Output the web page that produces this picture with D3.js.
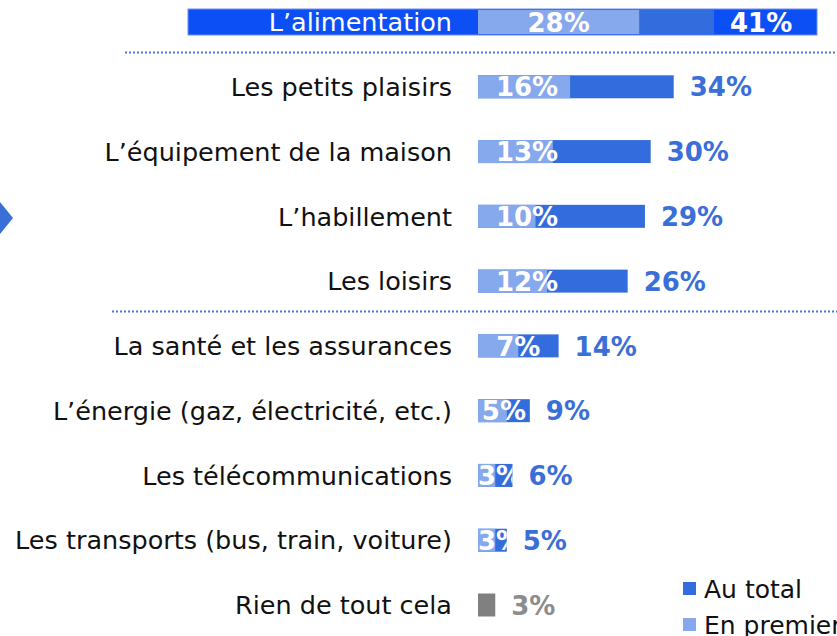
<!DOCTYPE html>
<html><head><meta charset="utf-8">
<script src="https://cdn.jsdelivr.net/npm/d3@7/dist/d3.min.js"></script>
<style>html,body{margin:0;padding:0;background:#fff;overflow:hidden}</style>
</head><body>
<svg id="c" width="837" height="636"></svg>
<script>
const categories = ["L\u2019alimentation","Les petits plaisirs","L\u2019équipement de la maison","L\u2019habillement","Les loisirs","La santé et les assurances","L\u2019énergie (gaz, électricité, etc.)","Les télécommunications","Les transports (bus, train, voiture)","Rien de tout cela"];
const auTotal   = [41,34,30,29,26,14,9,6,5,3];
const enPremier = [28,16,13,10,12,7,5,3,3,null];
const legendLabels = ["Au total","En premier"];

const DARK="#336ddd", LIGHT="#86a8ec", TXT="#3a6ed9", BAND="#0c50f5", GREY="#808080";
const FONT="'DejaVu Sans', sans-serif";
const svg=d3.select("#c");
const x=d3.scaleLinear().domain([0,41]).range([478,714]);
const y=d3.scalePoint().domain(categories).range([22,605]);
const bh=23;

// highlight band for first row
const yc0=y(categories[0]);
svg.append("rect").attr("x",188).attr("y",yc0-13).attr("width",629).attr("height",26)
  .attr("fill",BAND).attr("stroke","#6f8ff0").attr("stroke-width",1);

// dotted separators
[[0,125],[4,112]].forEach(([i,x1])=>{
  const yy=(y(categories[i])+y(categories[i+1]))/2-2;
  svg.append("line").attr("x1",x1).attr("x2",837).attr("y1",yy).attr("y2",yy)
    .attr("stroke","#4a78d6").attr("stroke-width",2).attr("stroke-dasharray","2 2");
});

// left arrow
svg.append("path").attr("d","M0,202L13,218L0,234Z").attr("fill","#3a6fd8");

const defs=svg.append("defs");
categories.forEach((c,i)=>{
  const yc=y(c), first=i===0, h=first?24:bh, top=yc-h/2;
  const grey=enPremier[i]==null;
  svg.append("text").attr("x",452).attr("y",yc).attr("dy","0.36em").attr("text-anchor","end")
    .attr("font-family",FONT).attr("font-size",25.5).attr("fill",first?"#fff":"#111").text(c);
  svg.append("rect").attr("x",x(0)).attr("y",top).attr("width",x(auTotal[i])-x(0)).attr("height",h)
    .attr("fill",grey?GREY:DARK);
  if(!grey){
    svg.append("rect").attr("x",x(0)).attr("y",top).attr("width",x(enPremier[i])-x(0)).attr("height",h)
      .attr("fill",LIGHT);
    const cid="clip"+i;
    defs.append("clipPath").attr("id",cid).append("rect").attr("x",x(0)).attr("y",top-6)
      .attr("width",x(auTotal[i])-x(0)).attr("height",h+12);
    const t=svg.append("text").attr("clip-path",`url(#${cid})`).attr("y",yc).attr("dy","0.37em")
      .attr("text-anchor","middle").attr("font-family",FONT).attr("font-weight","bold")
      .attr("font-size",26).attr("fill","#fff").text(enPremier[i]+"%");
    const w=t.node().getComputedTextLength();
    const lc=(x(0)+x(enPremier[i]))/2, tc=(x(0)+x(auTotal[i]))/2;
    const lx=Math.max(lc,Math.min(x(0)+49,tc),x(0)+w/2);
    t.attr("x",lx);
  }
  svg.append("text").attr("x",x(auTotal[i])+16).attr("y",yc).attr("dy","0.37em")
    .attr("font-family",FONT).attr("font-weight","bold").attr("font-size",26)
    .attr("fill",first?"#fff":(grey?"#8c8c8c":TXT)).text(auTotal[i]+"%");
});

// legend
legendLabels.forEach((l,i)=>{
  const ly=589+i*36;
  svg.append("rect").attr("x",683).attr("y",ly-7).attr("width",13).attr("height",13).attr("fill",i?LIGHT:DARK);
  svg.append("text").attr("x",704).attr("y",ly).attr("dy","0.37em").attr("font-family",FONT)
    .attr("font-size",25).attr("fill","#111").text(l);
});
</script>
</body></html>
